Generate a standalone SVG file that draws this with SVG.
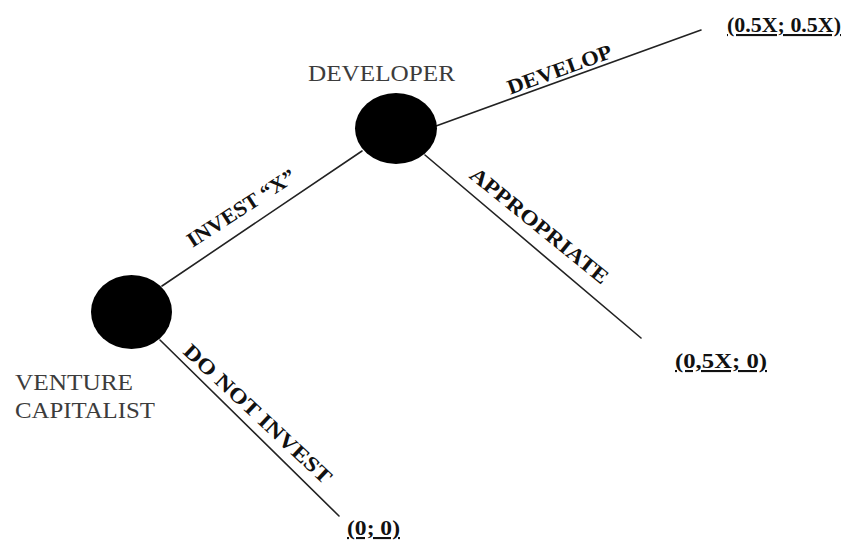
<svg xmlns="http://www.w3.org/2000/svg" width="856" height="544" viewBox="0 0 856 544">
<style>
.node{fill:#000;}
.name{font-family:"Liberation Serif",serif;font-size:23px;fill:#3c3c3c;}
.edge{stroke:#222;stroke-width:1.6;fill:none;stroke-linecap:round;}
.lab{font-family:"Liberation Serif",serif;font-size:21px;font-weight:bold;fill:#111;}
.pay{font-family:"Liberation Serif",serif;font-size:21px;font-weight:bold;fill:#111;text-decoration:underline;text-decoration-skip-ink:none;}
</style>
<rect width="856" height="544" fill="#fff"/>
<g id="connectors">
  <line class="edge" x1="162" y1="286" x2="362" y2="151"/>
  <line class="edge" x1="436" y1="126" x2="701" y2="30"/>
  <line class="edge" x1="425" y1="155" x2="641" y2="338"/>
  <line class="edge" x1="160" y1="340" x2="339" y2="516"/>
  <text class="lab" transform="translate(245,214) rotate(-33)" text-anchor="middle" textLength="125" lengthAdjust="spacingAndGlyphs">INVEST “X”</text>
  <text class="lab" transform="translate(562,76) rotate(-20)" text-anchor="middle" textLength="110" lengthAdjust="spacingAndGlyphs">DEVELOP</text>
  <text class="lab" transform="translate(535,231) rotate(39)" text-anchor="middle" textLength="172" lengthAdjust="spacingAndGlyphs">APPROPRIATE</text>
  <text class="lab" transform="translate(253,419) rotate(43)" text-anchor="middle" textLength="194" lengthAdjust="spacingAndGlyphs">DO NOT INVEST</text>
</g>
<g id="venture-capitalist">
  <ellipse class="node" cx="131.5" cy="312" rx="40.5" ry="37"/>
  <text class="name" x="15" y="390" textLength="118" lengthAdjust="spacingAndGlyphs">VENTURE</text>
  <text class="name" x="15" y="418" textLength="140" lengthAdjust="spacingAndGlyphs">CAPITALIST</text>
</g>
<g id="developer">
  <ellipse class="node" cx="396" cy="128.5" rx="41" ry="35.5"/>
  <text class="name" x="308" y="81" textLength="147" lengthAdjust="spacingAndGlyphs">DEVELOPER</text>
</g>
<g id="payoff-develop">
  <text class="pay" x="727" y="32" textLength="114" lengthAdjust="spacingAndGlyphs">(0.5X; 0.5X)</text>
</g>
<g id="payoff-appropriate">
  <text class="pay" x="675" y="368" textLength="92" lengthAdjust="spacingAndGlyphs">(0,5X; 0)</text>
</g>
<g id="payoff-not-invest">
  <text class="pay" x="347" y="535" textLength="53" lengthAdjust="spacingAndGlyphs">(0; 0)</text>
</g>
</svg>
